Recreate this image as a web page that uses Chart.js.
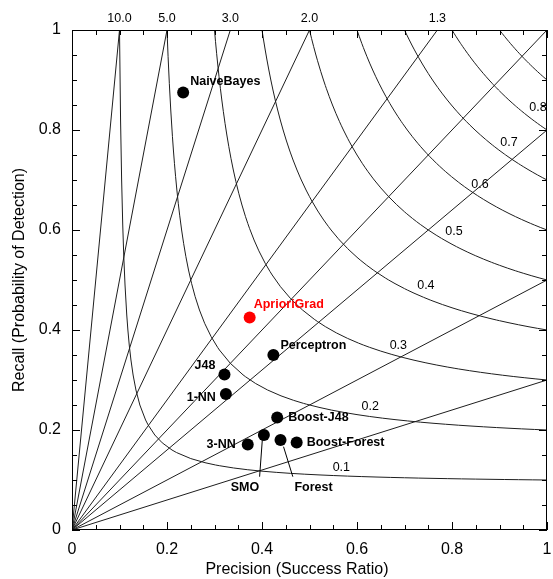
<!DOCTYPE html>
<html>
<head>
<meta charset="utf-8">
<script src="https://cdn.jsdelivr.net/npm/chart.js@4.4.0/dist/chart.umd.min.js"></script>
<style>
  html, body { margin: 0; padding: 0; background: #fff; }
  #wrap { width: 553px; height: 579px; }
</style>
</head>
<body>
<div id="wrap"><canvas id="perf" width="553" height="579"></canvas></div>
<script>
// Classifier results: precision (success ratio) vs recall (probability of detection)
const classifiers = ['NaiveBayes', 'AprioriGrad', 'Perceptron', 'J48', '1-NN',
                     'Boost-J48', '3-NN', 'SMO', 'Forest', 'Boost-Forest'];
const precision = [0.234, 0.374, 0.424, 0.321, 0.324, 0.432, 0.370, 0.404, 0.439, 0.473];
const recall    = [0.875, 0.425, 0.350, 0.311, 0.272, 0.225, 0.171, 0.190, 0.180, 0.175];
const highlighted = 'AprioriGrad';

// Reference isolines of the performance diagram
const biasLevels = [10, 5, 3, 2, 1.3, 1, 0.8, 0.5, 0.3];
const csiLevels  = [0.1, 0.2, 0.3, 0.4, 0.5, 0.6, 0.7, 0.8, 0.9];
const csiLabelled = [0.1, 0.2, 0.3, 0.4, 0.5, 0.6, 0.7, 0.8];

// Axis tick labels
const axisTickLabels = [0, 0.2, 0.4, 0.6, 0.8, 1];

// ---- layout / styling (kept apart from the data above) ----
const FONT = '"Liberation Sans", Arial, Helvetica, sans-serif';
const LINE_COLOR = '#1e1e1e';

// where each critical-success-index label sits (precision, recall)
const csiLabelAt = {
  0.1: [0.567, 0.124], 0.2: [0.628, 0.246], 0.3: [0.687, 0.368], 0.4: [0.745, 0.488],
  0.5: [0.804, 0.596], 0.6: [0.859, 0.690], 0.7: [0.920, 0.774], 0.8: [0.981, 0.844]
};

// label offsets from each marker, in pixels
const labelLayout = {
  'NaiveBayes':   { dx: 7,   dy: -11, align: 'left' },
  'AprioriGrad':  { dx: 4,   dy: -13, align: 'left' },
  'Perceptron':   { dx: 7,   dy: -9,  align: 'left' },
  'J48':          { dx: -9,  dy: -9,  align: 'right' },
  '1-NN':         { dx: -10, dy: 4,   align: 'right' },
  'Boost-J48':    { dx: 11,  dy: 0,   align: 'left' },
  '3-NN':         { dx: -12, dy: 0,   align: 'right' },
  'Boost-Forest': { dx: 10,  dy: 0,   align: 'left' },
  'SMO':          { dx: -19, dy: 53,  align: 'center', lead: [[-1.6, 5], [-4.3, 41.7]] },
  'Forest':       { dx: 33,  dy: 48,  align: 'center', lead: [[3, 6.7], [12.3, 36.7]] }
};

// ---- datasets ----
const points = classifiers.map((name, i) => ({ x: precision[i], y: recall[i] }));
const pointColors = classifiers.map(n => n === highlighted ? '#ff0000' : '#000000');

const isoStyle = {
  showLine: true, pointRadius: 0, borderColor: LINE_COLOR, borderWidth: 1,
  tension: 0, fill: false, order: 5
};

// frequency-bias lines: recall = bias * precision
const biasSets = biasLevels.map(b => Object.assign({
  label: 'bias ' + b,
  data: [{ x: 0, y: 0 }, b >= 1 ? { x: 1 / b, y: 1 } : { x: 1, y: b }]
}, isoStyle));

// critical-success-index curves: 1/CSI = 1/precision + 1/recall - 1
// sampled evenly along both axes so the steep and the flat parts stay smooth
const csiSets = csiLevels.map(c => {
  const n = 30;
  const srs = [];
  for (let i = 0; i <= n; i++) {
    srs.push(c + (1 - c) * i / n);                       // even in precision
    const pod = 1 - (1 - c) * i / n;                     // even in recall
    srs.push(1 / (1 / c + 1 - 1 / pod));
  }
  srs.sort((a, b) => a - b);
  const data = [];
  srs.forEach(sr => {
    if (data.length && Math.abs(sr - data[data.length - 1].x) < 2e-3) return;
    data.push({ x: sr, y: 1 / (1 / c + 1 - 1 / sr) });
  });
  const last = data[data.length - 1];
  if (last.x < 1) data.push({ x: 1, y: c });
  return Object.assign({ label: 'CSI ' + c, data }, isoStyle);
});

const fmt = v => String(Math.round(v * 100) / 100);
const isLabelled = v => axisTickLabels.some(t => Math.abs(t - v) < 1e-6);

// frame, inward tick marks, annotations and titles
const decorations = {
  id: 'decorations',
  afterDatasetsDraw(chart) {
    const ctx = chart.ctx;
    const xs = chart.scales.x, ys = chart.scales.y;
    const { left, right, top, bottom } = chart.chartArea;
    ctx.save();
    ctx.strokeStyle = '#000';
    ctx.lineWidth = 1;
    ctx.strokeRect(left + 0.5, top + 0.5, right - left - 1, bottom - top - 1);

    ctx.beginPath();
    xs.ticks.forEach(t => {
      const px = Math.round(xs.getPixelForValue(t.value)) + 0.5;
      const L = isLabelled(t.value) ? 8 : 5;
      ctx.moveTo(px, bottom); ctx.lineTo(px, bottom - L);
      ctx.moveTo(px, top); ctx.lineTo(px, top + L);
    });
    ys.ticks.forEach(t => {
      const py = Math.round(ys.getPixelForValue(t.value)) + 0.5;
      const L = isLabelled(t.value) ? 8 : 5;
      ctx.moveTo(left, py); ctx.lineTo(left + L, py);
      ctx.moveTo(right, py); ctx.lineTo(right - L, py);
    });
    ctx.stroke();

    // bias values along the top edge
    ctx.fillStyle = '#000';
    ctx.font = '12.5px ' + FONT;
    ctx.textAlign = 'center';
    ctx.textBaseline = 'middle';
    biasLevels.filter(b => b > 1).forEach(b => {
      ctx.fillText(b.toFixed(1), xs.getPixelForValue(1 / b), top - 11);
    });

    // CSI values next to their curves
    ctx.font = '12.5px ' + FONT;
    csiLabelled.forEach(c => {
      const p = csiLabelAt[c];
      ctx.fillText(c.toFixed(1), xs.getPixelForValue(p[0]), ys.getPixelForValue(p[1]));
    });

    // classifier names
    const meta = chart.getDatasetMeta(0);
    ctx.font = 'bold 12.5px ' + FONT;
    classifiers.forEach((name, i) => {
      const el = meta.data[i];
      const lay = labelLayout[name];
      ctx.fillStyle = pointColors[i];
      ctx.textAlign = lay.align;
      ctx.fillText(name, el.x + lay.dx, el.y + lay.dy);
      if (lay.lead) {
        ctx.beginPath();
        ctx.strokeStyle = '#000';
        ctx.moveTo(el.x + lay.lead[0][0], el.y + lay.lead[0][1]);
        ctx.lineTo(el.x + lay.lead[1][0], el.y + lay.lead[1][1]);
        ctx.stroke();
      }
    });

    // axis titles
    ctx.fillStyle = '#000';
    ctx.font = '16px ' + FONT;
    ctx.textAlign = 'center';
    ctx.textBaseline = 'alphabetic';
    ctx.fillText('Precision (Success Ratio)', 297, 574);
    ctx.save();
    ctx.translate(24, (top + bottom) / 2);
    ctx.rotate(-Math.PI / 2);
    ctx.fillText('Recall (Probability of Detection)', 0, 0);
    ctx.restore();
    ctx.restore();
  }
};

Chart.defaults.font.family = FONT;
Chart.defaults.color = '#000';

new Chart(document.getElementById('perf'), {
  type: 'scatter',
  data: {
    datasets: [{
      label: 'classifiers',
      data: points,
      pointRadius: 6,
      pointHoverRadius: 6,
      pointBorderWidth: 0,
      pointBackgroundColor: pointColors,
      pointBorderColor: pointColors,
      showLine: false,
      order: 0
    }].concat(biasSets, csiSets)
  },
  options: {
    responsive: false,
    animation: false,
    events: [],
    layout: { padding: { top: 30, right: 5, left: 0, bottom: 0 } },
    plugins: { legend: { display: false }, tooltip: { enabled: false }, title: { display: false } },
    scales: {
      x: {
        type: 'linear', position: 'bottom', min: 0, max: 1,
        grid: { display: false, drawTicks: true, tickLength: 10 },
        border: { display: false },
        ticks: {
          stepSize: 0.05, autoSkip: false, maxRotation: 0, padding: 0,
          font: { size: 16 },
          callback: v => isLabelled(v) ? fmt(v) : ''
        },
        afterFit: s => { s.height = 49; }
      },
      y: {
        type: 'linear', position: 'left', min: 0, max: 1,
        grid: { display: false, drawTicks: true, tickLength: 11 },
        border: { display: false },
        ticks: {
          stepSize: 0.05, autoSkip: false, padding: 0,
          font: { size: 16 },
          callback: v => isLabelled(v) ? fmt(v) : ''
        },
        afterFit: s => { s.width = 72; }
      }
    }
  },
  plugins: [decorations]
});
</script>
</body>
</html>
